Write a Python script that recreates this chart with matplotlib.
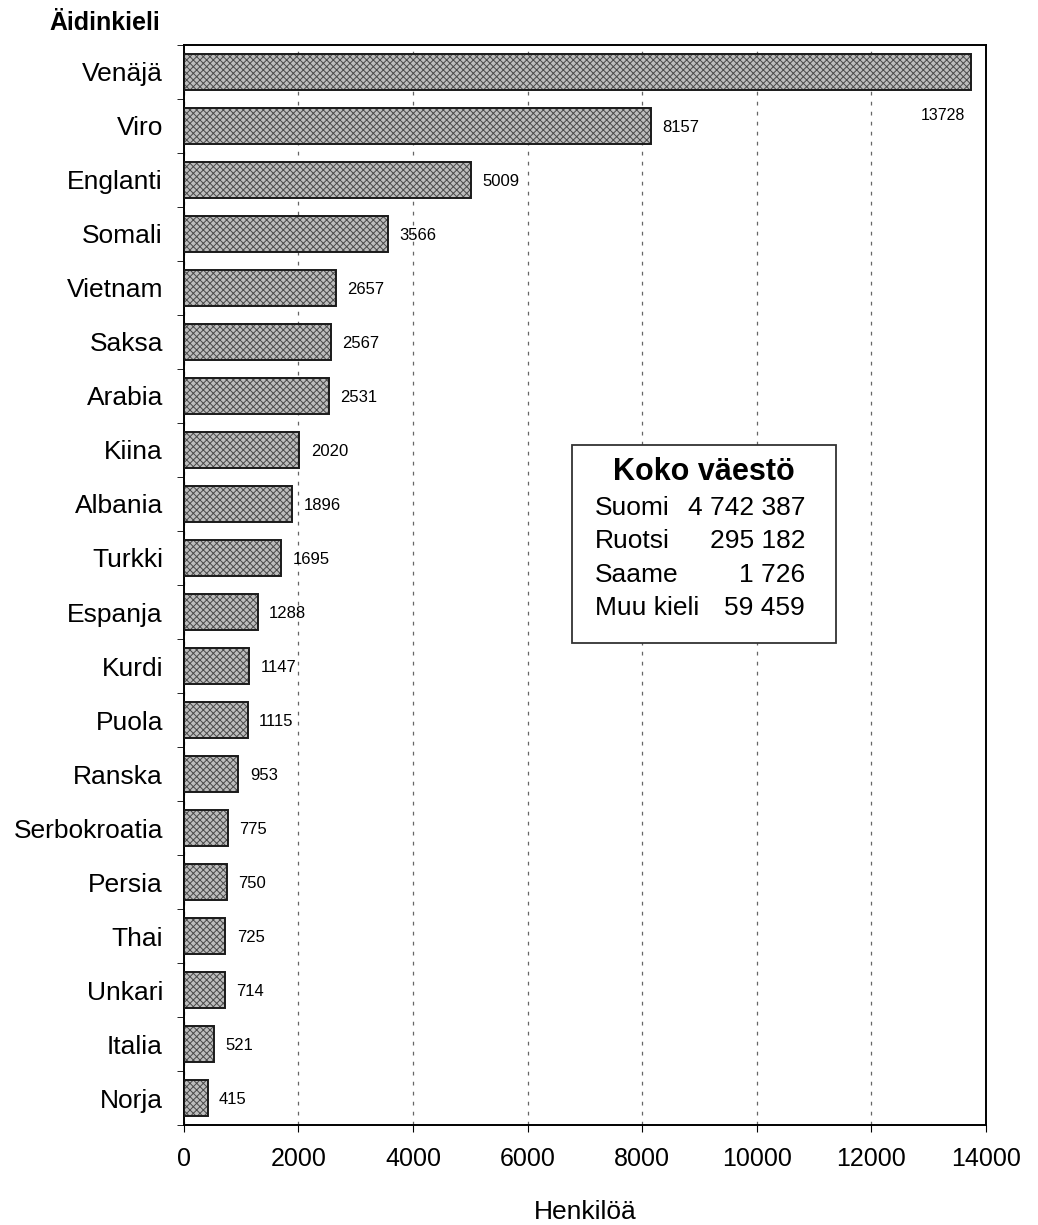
import matplotlib.pyplot as plt
import numpy as np

plt.rcParams['font.family'] = ['Liberation Sans', 'DejaVu Sans']

# Data
kielet = ['Venäjä', 'Viro', 'Englanti', 'Somali', 'Vietnam', 'Saksa', 'Arabia',
          'Kiina', 'Albania', 'Turkki', 'Espanja', 'Kurdi', 'Puola', 'Ranska',
          'Serbokroatia', 'Persia', 'Thai', 'Unkari', 'Italia', 'Norja']
henkiloa = [13728, 8157, 5009, 3566, 2657, 2567, 2531, 2020, 1896, 1695,
            1288, 1147, 1115, 953, 775, 750, 725, 714, 521, 415]

koko_nimet = ['Suomi', 'Ruotsi', 'Saame', 'Muu kieli']
koko_luvut = ['4 742 387', '295 182', '1 726', '59 459']

fig = plt.figure(figsize=(10.38, 12.25), dpi=100)
ax = fig.add_axes([0.177, 0.0816, 0.773, 0.8817])

y = np.arange(len(kielet))
# hatched fill, then outline on top
plt.rcParams['hatch.color'] = '#4a4a4a'
plt.rcParams['hatch.linewidth'] = 0.7
ax.barh(y, henkiloa, height=0.68, color='#bdbdbd', hatch='xxxxx',
        edgecolor='#4a4a4a', linewidth=0, zorder=2)
ax.barh(y, henkiloa, height=0.68, fill=False, edgecolor='#1a1a1a',
        linewidth=1.4, zorder=3)

# value labels
for i, v in enumerate(henkiloa):
    if i == 0:
        ax.text(v - 100, i + 0.8, str(v), ha='right', va='center', fontsize=11.5)
    else:
        ax.text(v + 200, i + 0.02, str(v), ha='left', va='center', fontsize=12)

ax.set_xlim(0, 14000)
ax.set_ylim(19.5, -0.5)
ax.set_xticks(np.arange(0, 14001, 2000))
ax.tick_params(axis='x', labelsize=18, length=5, pad=11)

ax.set_yticks(y)
ax.set_yticklabels(kielet, fontsize=19)
ax.tick_params(axis='y', which='major', length=0, pad=15)
ax.set_yticks(np.arange(-0.5, len(kielet), 1), minor=True)
ax.tick_params(axis='y', which='minor', length=5, direction='out')

ax.xaxis.grid(True, linestyle=(0, (3, 5)), color='#666666', linewidth=0.9)
ax.set_axisbelow(True)
for s in ax.spines.values():
    s.set_linewidth(1.4)

fig.text(0.5636, 1 - 1212 / 1225, 'Henkilöä', fontsize=19, ha='center', va='center')
fig.text(0.048, 0.981, 'Äidinkieli', fontsize=18, fontweight='bold', va='center')

# inset box
bx0, by0, bx1, by1 = 0.551, 0.4751, 0.8054, 0.6367
box = plt.Rectangle((bx0, by0), bx1 - bx0, by1 - by0, transform=fig.transFigure,
                    facecolor='white', edgecolor='#333333', linewidth=1.3,
                    zorder=5)
fig.patches.append(box)
fig.text((bx0 + bx1) / 2, 1 - 472 / 1225, 'Koko väestö', fontsize=22,
         fontweight='bold', ha='center', va='center', zorder=6)
for k, (n, l) in enumerate(zip(koko_nimet, koko_luvut)):
    yy = 1 - (508 + k * 33.3) / 1225
    fig.text(595 / 1038, yy, n, fontsize=19, ha='left', va='center', zorder=6)
    fig.text(805 / 1038, yy, l, fontsize=19, ha='right', va='center', zorder=6)

fig.savefig('out.png', dpi=100)
